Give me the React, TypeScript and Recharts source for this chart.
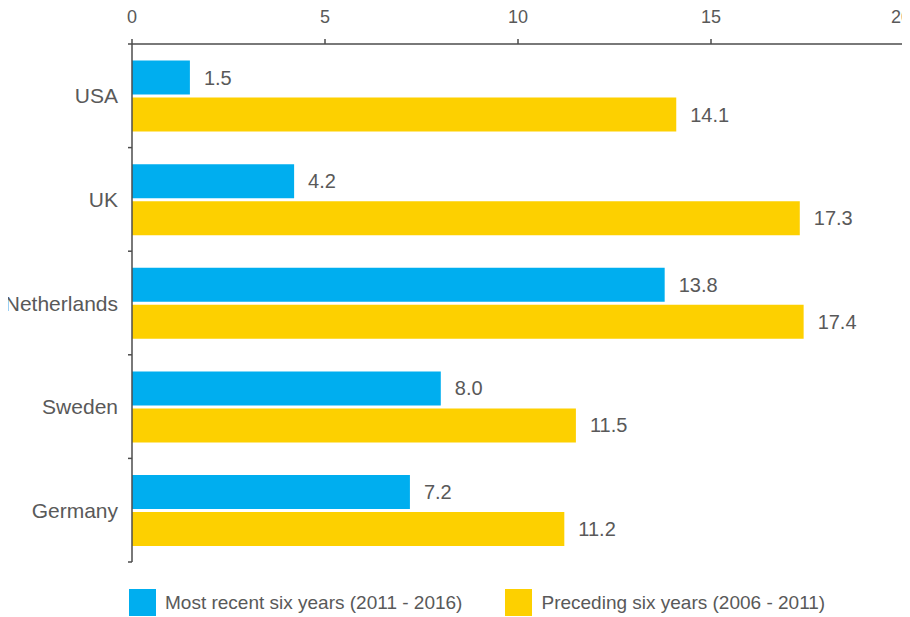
import React from 'react';
import { BarChart, Bar, XAxis, YAxis, LabelList, Legend } from 'recharts';

const categories = ['USA', 'UK', 'Netherlands', 'Sweden', 'Germany'];
const recentValues = [1.5, 4.2, 13.8, 8.0, 7.2];
const precedingValues = [14.1, 17.3, 17.4, 11.5, 11.2];
const xTicks = [0, 5, 10, 15, 20];
const seriesNames = ['Most recent six years (2011 - 2016)', 'Preceding six years (2006 - 2011)'];

const BLUE = '#00AEEF';
const YELLOW = '#FDD000';
const TEXT = '#595959';
const AXIS = '#4d4d4d';
const FONT = '"Liberation Sans", Arial, sans-serif';

const data = categories.map((c, i) => ({
  name: c,
  recent: recentValues[i],
  preceding: precedingValues[i],
}));

const Y_TICK_SIZE = 6;
const Y_TICK_MARGIN = 8;

const CategoryTick = (props: any) => {
  const { x, y, payload, index, visibleTicksCount } = props;
  const half = payload?.offset ?? 0;
  const axisX = x + Y_TICK_SIZE + Y_TICK_MARGIN;
  const isLast = index === visibleTicksCount - 1;
  return (
    <g>
      <text x={x} y={y} dy="0.36em" textAnchor="end" fill={TEXT} fontSize={21} fontFamily={FONT}>
        {payload.value}
      </text>
      <line x1={axisX - 4} x2={axisX} y1={y - half} y2={y - half} stroke={AXIS} strokeWidth={1.5} />
      {isLast && (
        <line x1={axisX - 4} x2={axisX} y1={y + half} y2={y + half} stroke={AXIS} strokeWidth={1.5} />
      )}
    </g>
  );
};

const ValueTick = (props: any) => {
  const { x, y, payload, index, visibleTicksCount } = props;
  const isLast = index === visibleTicksCount - 1;
  return (
    <text x={x} y={y} dx={isLast ? -3 : 0} textAnchor="middle" fill={TEXT} fontSize={18} fontFamily={FONT}>
      {payload.value}
    </text>
  );
};

const LegendContent = () => {
  const colors = [BLUE, YELLOW];
  return (
    <div style={{ display: 'flex', alignItems: 'center', fontFamily: FONT, fontSize: 19, color: TEXT }}>
      {seriesNames.map((n, i) => (
        <div key={n} style={{ display: 'flex', alignItems: 'center', marginRight: 43 }}>
          <div style={{ width: 27, height: 27, background: colors[i], marginRight: 9 }} />
          <span style={{ whiteSpace: 'nowrap' }}>{n}</span>
        </div>
      ))}
    </div>
  );
};

const fmt = (v: any) => Number(v).toFixed(1);

export default function App() {
  return (
    <div style={{ marginLeft: -8, width: 910 }}>
      <BarChart
        width={910}
        height={609}
        data={data}
        layout="vertical"
        margin={{ top: 0, right: 6, left: 8, bottom: 55 }}
        barCategoryGap="16%"
        barGap={3}
      >
        <XAxis
          type="number"
          orientation="top"
          domain={[0, 20]}
          ticks={xTicks}
          height={36}
          tickSize={5}
          tickMargin={16}
          axisLine={{ stroke: AXIS, strokeWidth: 1.5 }}
          tickLine={{ stroke: AXIS, strokeWidth: 1.5 }}
          tick={<ValueTick />}
          interval={0}
        />
        <YAxis
          type="category"
          dataKey="name"
          width={124}
          tickLine={false}
          tickSize={Y_TICK_SIZE}
          tickMargin={Y_TICK_MARGIN}
          axisLine={{ stroke: AXIS, strokeWidth: 1.5 }}
          tick={<CategoryTick />}
          interval={0}
        />
        <Legend
          layout="horizontal"
          verticalAlign="middle"
          align="center"
          content={<LegendContent />}
          wrapperStyle={{ top: 581, left: 129, width: 760, height: 28 }}
        />
        <Bar dataKey="recent" name={seriesNames[0]} fill={BLUE} isAnimationActive={false}>
          <LabelList dataKey="recent" position="right" offset={14} formatter={fmt} fill={TEXT} fontSize={20} fontFamily={FONT} />
        </Bar>
        <Bar dataKey="preceding" name={seriesNames[1]} fill={YELLOW} isAnimationActive={false}>
          <LabelList dataKey="preceding" position="right" offset={14} formatter={fmt} fill={TEXT} fontSize={20} fontFamily={FONT} />
        </Bar>
      </BarChart>
    </div>
  );
}
